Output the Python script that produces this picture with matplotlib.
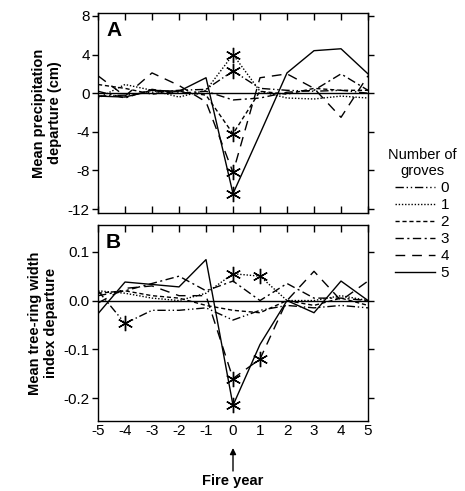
import numpy as np
import matplotlib.pyplot as plt
from matplotlib.lines import Line2D
from matplotlib.patches import FancyArrowPatch

plt.rcParams['font.family'] = ['Liberation Sans', 'DejaVu Sans']

years = [-5, -4, -3, -2, -1, 0, 1, 2, 3, 4, 5]
groves = ['0', '1', '2', '3', '4', '5']

# panel A: mean precipitation departure (cm)
precip = [
    [-0.3, -0.2, 0.1, 0.3, 0.4, 2.3, 0.5, 0.3, 0.2, 0.3, 0.0],       # 0 groves
    [-0.5, 0.9, 0.3, -0.4, 0.3, 4.0, 0.2, -0.5, -0.6, -0.3, -0.5],   # 1
    [0.9, 0.5, -0.1, 0.2, -0.2, -4.2, 0.2, -0.1, 0.5, 0.3, 0.3],     # 2
    [0.2, -0.5, 0.4, 0.0, 0.2, -0.7, -0.5, 0.1, 0.3, 2.0, 0.3],      # 3
    [1.8, -0.3, 2.1, 0.8, -0.9, -8.2, 1.6, 2.0, 0.5, -2.5, 1.8],     # 4
    [-0.3, -0.4, 0.3, 0.2, 1.6, -10.4, -4.2, 2.1, 4.4, 4.6, 2.0],    # 5
]
# panel B: mean tree-ring width index departure
ring = [
    [0.02, -0.047, -0.02, -0.02, -0.015, -0.04, -0.02, -0.01, -0.015, -0.01, -0.015],
    [0.02, 0.015, 0.005, 0.0, 0.015, 0.055, 0.05, 0.0, 0.0, 0.01, 0.0],
    [0.015, 0.02, 0.01, 0.005, -0.01, -0.02, -0.025, 0.0, -0.01, 0.005, -0.01],
    [0.01, 0.02, 0.035, 0.05, 0.02, 0.04, 0.0, 0.035, 0.005, 0.005, 0.0],
    [-0.005, 0.025, 0.03, 0.01, 0.01, -0.16, -0.12, 0.0, 0.06, 0.0, 0.04],
    [-0.027, 0.038, 0.033, 0.028, 0.084, -0.215, -0.09, 0.0, -0.025, 0.04, 0.0],
]
# significant years (index into years) for each grove count
stars_a = [[5], [5], [5], [], [5], [5]]
stars_b = [[1], [5, 6], [], [], [5, 6], [5]]

styles = [(0, (6, 2, 1, 2, 1, 2)), (0, (1, 1.3)), (0, (3, 2)),
          (0, (6, 2.5, 1.5, 2.5)), (0, (7, 5)), '-']
asterisk = (6, 2, 0)

fig = plt.figure(figsize=(4.65, 4.91), dpi=100)
axA = fig.add_axes([0.2108, 0.5662, 0.5806, 0.4073])
axB = fig.add_axes([0.2108, 0.1426, 0.5806, 0.3992])


def draw(ax, data, stars):
    ax.axhline(0, color='black', lw=1)
    for i in range(len(groves)):
        ax.plot(years, data[i], color='black', lw=1, ls=styles[i],
                marker=asterisk, markevery=stars[i], markersize=11,
                markeredgewidth=1)
    ax.set_xlim(-5, 5)
    ax.set_xticks(years)
    ax.tick_params(axis='y', direction='out', length=4, labelsize=11,
                   right=True, width=1, pad=2)
    ax.tick_params(axis='x', direction='in', length=5, top=True, width=1)
    for s in ax.spines.values():
        s.set_linewidth(1)


draw(axA, precip, stars_a)
axA.set_ylim(-12.4, 8.3)
axA.set_yticks([8, 4, 0, -4, -8, -12])
axA.set_yticklabels(['8', '4', '0', '-4', '-8', '-12'])
axA.set_xticklabels([])
axA.set_ylabel('Mean precipitation\ndeparture (cm)', fontsize=10.5,
               fontweight='bold', labelpad=4)
axA.text(0.03, 0.96, 'A', transform=axA.transAxes, fontsize=15,
         fontweight='bold', va='top', ha='left')

draw(axB, ring, stars_b)
axB.set_ylim(-0.247, 0.155)
axB.set_yticks([0.1, 0.0, -0.1, -0.2])
axB.set_yticklabels(['0.1', '0.0', '-0.1', '-0.2'])
axB.tick_params(axis='x', bottom=False, labelsize=11, pad=2)
axB.set_xticklabels([str(y) for y in years])
axB.set_ylabel('Mean tree-ring width\nindex departure', fontsize=10.5,
               fontweight='bold', labelpad=4)
axB.text(0.03, 0.96, 'B', transform=axB.transAxes, fontsize=15,
         fontweight='bold', va='top', ha='left')

# fire year arrow
fig.text(233 / 465, 1 - 481 / 491, 'Fire year', ha='center', va='center',
         fontsize=10.5, fontweight='bold')
fig.patches.append(FancyArrowPatch(
    (233 / 465, 1 - 471 / 491), (233 / 465, 1 - 448 / 491),
    transform=fig.transFigure, arrowstyle='-|>', mutation_scale=9,
    color='black', lw=1, shrinkA=0, shrinkB=0))

handles = [Line2D([], [], color='black', lw=1, ls=styles[i]) for i in range(len(groves))]
leg = fig.legend(handles, groves, title='Number of\ngroves', loc='upper left',
                 bbox_to_anchor=(380 / 465, 1 - 140 / 491), frameon=False,
                 fontsize=11, title_fontsize=10.5, handlelength=2.6,
                 handletextpad=0.4, labelspacing=0.2, borderpad=0)
leg.get_title().set_multialignment('center')

fig.savefig('out.png', dpi=100)
